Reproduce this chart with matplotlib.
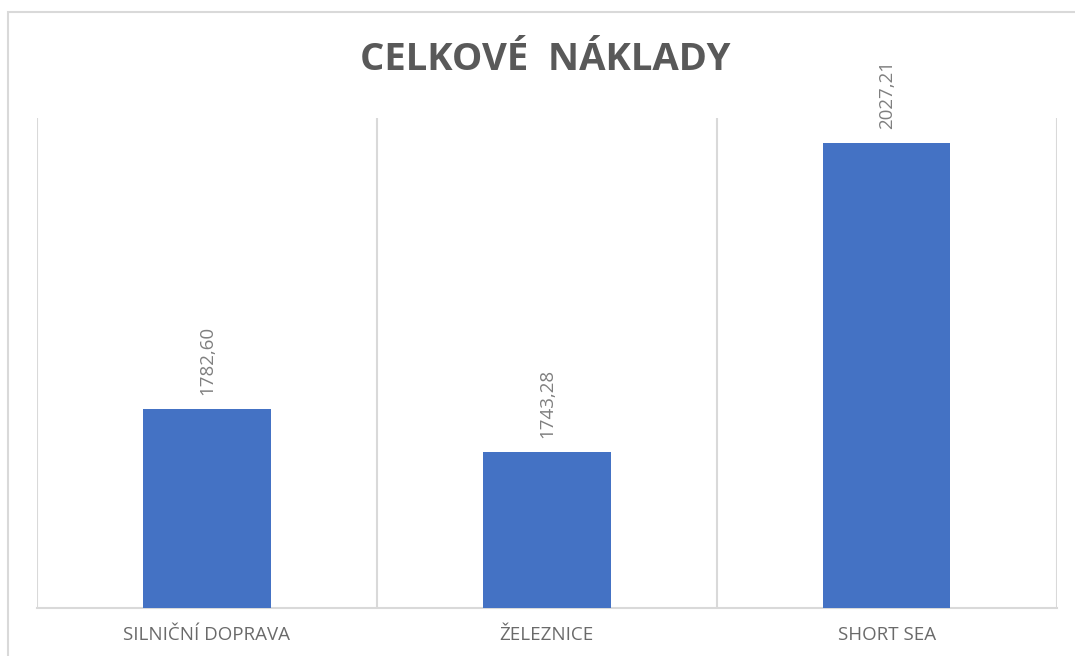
import matplotlib
matplotlib.use('Agg')
import matplotlib.pyplot as plt
import matplotlib.patches as patches
import numpy as np

categories = ['SILNIČNÍ DOPRAVA', 'ŽELEZNICE', 'SHORT SEA']
values = [1782.60, 1743.28, 2027.21]
labels = ['1782,60', '1743,28', '2027,21']

bar_col = '#4472C4'
grid_col = '#D9D9D9'

fig = plt.figure(figsize=(10.75, 6.56), dpi=100)
ax = fig.add_axes([37/1075, 1-607.7/656, (1056.7-37)/1075, (607.7-118)/656])

# outer chart frame (cut off at right/bottom like the screenshot)
fig.patches.append(patches.Rectangle((8/1075, -0.05), 1.2, 1-12/656+0.05,
    transform=fig.transFigure, fill=False, edgecolor=grid_col, lw=1.5))

x = np.arange(len(categories))
ax.bar(x, np.array(values)-1600, bottom=1600, width=0.375, color=bar_col, zorder=3)
ax.set_ylim(1600, 2050)
ax.set_xlim(-0.5, 2.5)

for xi, v, lab in zip(x, values, labels):
    ax.annotate(lab, (xi, v), xytext=(0, 10), textcoords='offset points',
        rotation=90, ha='center', va='bottom', fontsize=13.5, color='#7F7F7F',
        family='Open Sans')

ax.set_xticks(x)
ax.set_xticklabels(categories, fontsize=13.5, color='#6A6A6A', family='Open Sans')
ax.tick_params(axis='x', length=0, pad=13)
ax.set_xticks([-0.5, 0.5, 1.5, 2.5], minor=True)
ax.tick_params(axis='x', which='minor', length=0)
ax.grid(axis='x', which='minor', color=grid_col, lw=1.5, zorder=0)
ax.set_yticks([])
for s in ['top', 'right', 'left']:
    ax.spines[s].set_visible(False)
ax.spines['bottom'].set_color(grid_col)
ax.spines['bottom'].set_linewidth(1.5)

fig.text(545/1075, 1-60/656, 'CELKOVÉ  NÁKLADY', ha='center', va='center',
    fontsize=27.5, fontweight='bold', color='#595959', family='Open Sans')

plt.savefig('out.png', dpi=100)
